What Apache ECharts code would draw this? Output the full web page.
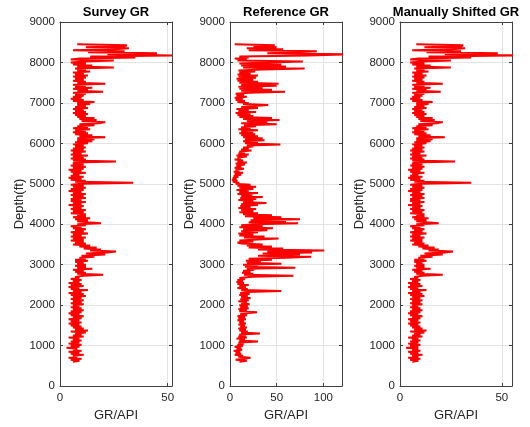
<!DOCTYPE html>
<html><head><meta charset="utf-8">
<script src="https://cdn.jsdelivr.net/npm/echarts@6/dist/echarts.min.js"></script>
<style>html,body{margin:0;padding:0;background:#fff}#c{width:530px;height:427px}</style>
</head><body><div id="c"></div>
<script>
// depth sampling of the logs (ft)
const depthStart = 600;
const depthStep = 25;

// GR values (API) from 600 ft upward, one value every 25 ft
const surveyGR = [
6,9,5,10,4,8,6,11,5,9,4,10,6,8,3,9,5,10,4,9,
5,10,6,9,4,11,6,10,7,12,5,13,7,11,6,10,5,9,4,10,
5,9,4,10,6,11,5,9,4,10,5,11,6,10,5,9,6,11,5,10,
6,11,5,10,6,12,5,11,4,10,6,13,5,9,4,11,5,10,4,9,
6,10,5,9,7,11,20,8,12,7,11,6,15,8,12,7,12,8,11,7,
13,7,12,9,16,10,21,12,22,26,14,19,11,17,9,14,6,12,7,11,
5,11,6,12,5,10,6,13,5,11,7,12,6,10,5,12,8,19,13,8,
13,7,14,6,12,8,12,5,11,6,12,5,10,6,11,4,10,6,12,5,
10,5,12,6,11,5,12,6,10,4,11,5,12,6,11,5,10,34,7,12,
5,10,4,11,5,9,6,12,5,10,4,11,6,12,5,11,6,7,26,6,
12,5,11,6,13,5,10,6,12,5,11,6,12,7,11,6,13,7,15,8,
16,8,21,9,15,7,13,6,12,7,14,6,13,8,16,9,18,21,10,17,
9,16,8,12,7,13,6,12,7,11,6,13,7,12,8,14,8,16,6,11,
5,10,6,11,7,12,6,20,8,13,6,15,7,12,6,21,8,12,6,11,
7,12,6,13,7,11,6,14,8,12,7,25,8,15,6,12,5,11,25,5,
9,35,14,52,22,45,13,30,6,25,32,12,30,31,8
];
const referenceGR = [
10,18,6,15,22,9,14,5,12,6,11,4,13,7,12,5,14,8,15,9,
30,10,16,7,18,9,17,10,32,12,19,10,17,9,18,11,16,9,17,10,
15,8,17,9,16,8,18,11,17,29,10,18,9,20,11,19,10,21,12,18,
9,20,11,22,12,19,10,21,11,18,55,12,19,8,17,10,20,8,15,7,
14,8,16,10,24,68,15,25,13,22,14,26,18,70,16,30,14,55,18,33,
17,45,20,60,87,30,75,35,88,40,101,30,57,20,45,18,35,12,8,25,
10,30,52,15,37,10,25,9,30,12,40,14,46,10,35,12,28,73,20,60,
22,75,25,55,16,45,14,30,10,25,12,28,9,22,11,30,12,39,14,25,
9,28,11,35,12,24,8,30,10,20,7,25,10,28,8,22,6,10,3,8,
2,7,3,9,4,12,5,14,4,10,6,15,5,12,7,16,6,18,8,14,
5,12,8,18,7,20,9,16,10,23,12,20,14,25,18,54,16,30,14,37,
16,35,14,30,12,27,10,25,12,30,9,22,12,28,15,50,12,40,18,53,
14,45,10,25,8,22,6,28,9,20,7,30,12,26,41,14,20,8,16,6,
14,5,18,7,15,6,20,59,12,45,10,35,9,50,12,52,10,30,8,25,
7,28,9,30,8,22,10,27,9,35,80,14,60,12,55,10,40,78,8,18,
5,20,10,84,125,40,70,93,20,57,18,50,25,48,5
];
const shiftedGR = [
6,9,5,10,4,9,6,11,5,9,4,10,6,9,3,9,5,10,4,9,
5,10,6,9,4,11,6,10,7,12,5,13,7,11,6,10,5,9,4,10,
5,9,4,10,6,11,5,9,4,10,5,11,6,10,5,9,6,11,5,10,
6,11,5,10,6,12,5,11,4,10,6,13,5,9,4,11,5,10,4,9,
6,10,5,9,7,11,21,8,12,7,11,6,15,8,12,7,12,8,11,7,
13,7,12,9,16,10,21,12,22,26,14,19,11,17,9,14,6,12,7,11,
5,11,6,12,5,10,6,13,5,11,7,12,6,10,5,12,8,19,13,8,
13,7,14,6,12,8,12,5,11,6,12,5,10,6,11,4,10,6,12,5,
10,5,12,6,11,5,12,6,10,4,11,5,12,6,11,5,10,35,7,12,
5,10,4,11,5,9,6,12,5,10,4,11,6,12,5,11,6,7,27,6,
12,5,11,6,13,5,10,6,12,5,11,6,12,7,11,6,13,7,15,8,
16,8,22,9,15,7,13,6,12,7,14,6,13,8,16,9,18,21,10,17,
9,16,8,12,7,13,6,12,7,11,6,13,7,12,8,14,8,16,6,11,
5,10,6,11,7,12,6,20,8,13,6,15,7,12,6,21,8,12,6,11,
7,12,6,13,7,11,6,14,8,12,7,25,8,15,6,12,5,11,25,5,
9,35,14,56,22,48,13,30,6,25,32,12,30,31,8
];

const panelTitles = ['Survey GR', 'Reference GR', 'Manually Shifted GR'];
const panelData = [surveyGR, referenceGR, shiftedGR];
const xMaxes = [52, 120, 55];
const xInterval = 50;
const depthMin = 0, depthMax = 9000, depthInterval = 1000;
const xName = 'GR/API';
const yName = 'Depth(ft)';

const lefts = [60, 230, 400];
const gridW = 112, gridTop = 22, gridH = 369;
const axisColor = '#404040';
const labelColor = '#262626';
const gridColor = '#e3e3e3';
const FONT = 'Liberation Sans, Arial, Helvetica, sans-serif';

const chart = echarts.init(document.getElementById('c'), null, {renderer: 'canvas'});
const grids = [], xAxes = [], yAxes = [], series = [], graphics = [];

panelData.forEach((vals, i) => {
  grids.push({left: lefts[i], top: gridTop, width: gridW, height: gridH, containLabel: false});
  const xBase = {
    gridIndex: i, type: 'value', min: 0, max: xMaxes[i], interval: xInterval,
    axisLine: {show: true, onZero: false, lineStyle: {color: axisColor, width: 1}},
    axisTick: {show: true, inside: true, length: 3, lineStyle: {color: axisColor}}
  };
  xAxes.push(Object.assign({}, xBase, {
    position: 'bottom',
    name: xName, nameLocation: 'middle', nameGap: 21,
    nameTextStyle: {color: labelColor, fontSize: 13, fontFamily: FONT, verticalAlign: 'top'},
    axisLabel: {color: labelColor, fontSize: 11.5, fontFamily: FONT, margin: 6,
      formatter: v => (v % xInterval === 0 ? String(v) : '')},
    splitLine: {show: true, lineStyle: {color: gridColor, width: 1}}
  }));
  xAxes.push(Object.assign({}, xBase, {
    position: 'top', axisLabel: {show: false}, splitLine: {show: false}
  }));
  const yBase = {
    gridIndex: i, type: 'value', min: depthMin, max: depthMax, interval: depthInterval,
    axisLine: {show: true, onZero: false, lineStyle: {color: axisColor, width: 1}},
    axisTick: {show: true, inside: true, length: 3, lineStyle: {color: axisColor}}
  };
  yAxes.push(Object.assign({}, yBase, {
    position: 'left',
    name: yName, nameLocation: 'middle', nameGap: 31, nameRotate: 90,
    nameTextStyle: {color: labelColor, fontSize: 13, fontFamily: FONT},
    axisLabel: {color: labelColor, fontSize: 11.5, fontFamily: FONT, margin: 5,
      formatter: v => String(v)},
    splitLine: {show: true, lineStyle: {color: gridColor, width: 1}}
  }));
  yAxes.push(Object.assign({}, yBase, {
    position: 'right', axisLabel: {show: false}, splitLine: {show: false}
  }));
  series.push({
    type: 'line', xAxisIndex: i * 2, yAxisIndex: i * 2,
    data: vals.map((v, k) => [v, depthStart + k * depthStep]),
    showSymbol: false, symbol: 'none', clip: true,
    lineStyle: {color: '#ff0000', width: 2, join: 'bevel'},
    itemStyle: {color: '#ff0000'},
    animation: false, silent: true
  });
  graphics.push({
    type: 'text', x: lefts[i] + gridW / 2, y: 12,
    style: {text: panelTitles[i], textAlign: 'center', textVerticalAlign: 'middle',
      font: 'bold 13px ' + FONT, fill: '#000'}
  });
});

chart.setOption({
  backgroundColor: '#fff',
  animation: false,
  grid: grids, xAxis: xAxes, yAxis: yAxes, series: series,
  graphic: graphics
});
</script></body></html>
